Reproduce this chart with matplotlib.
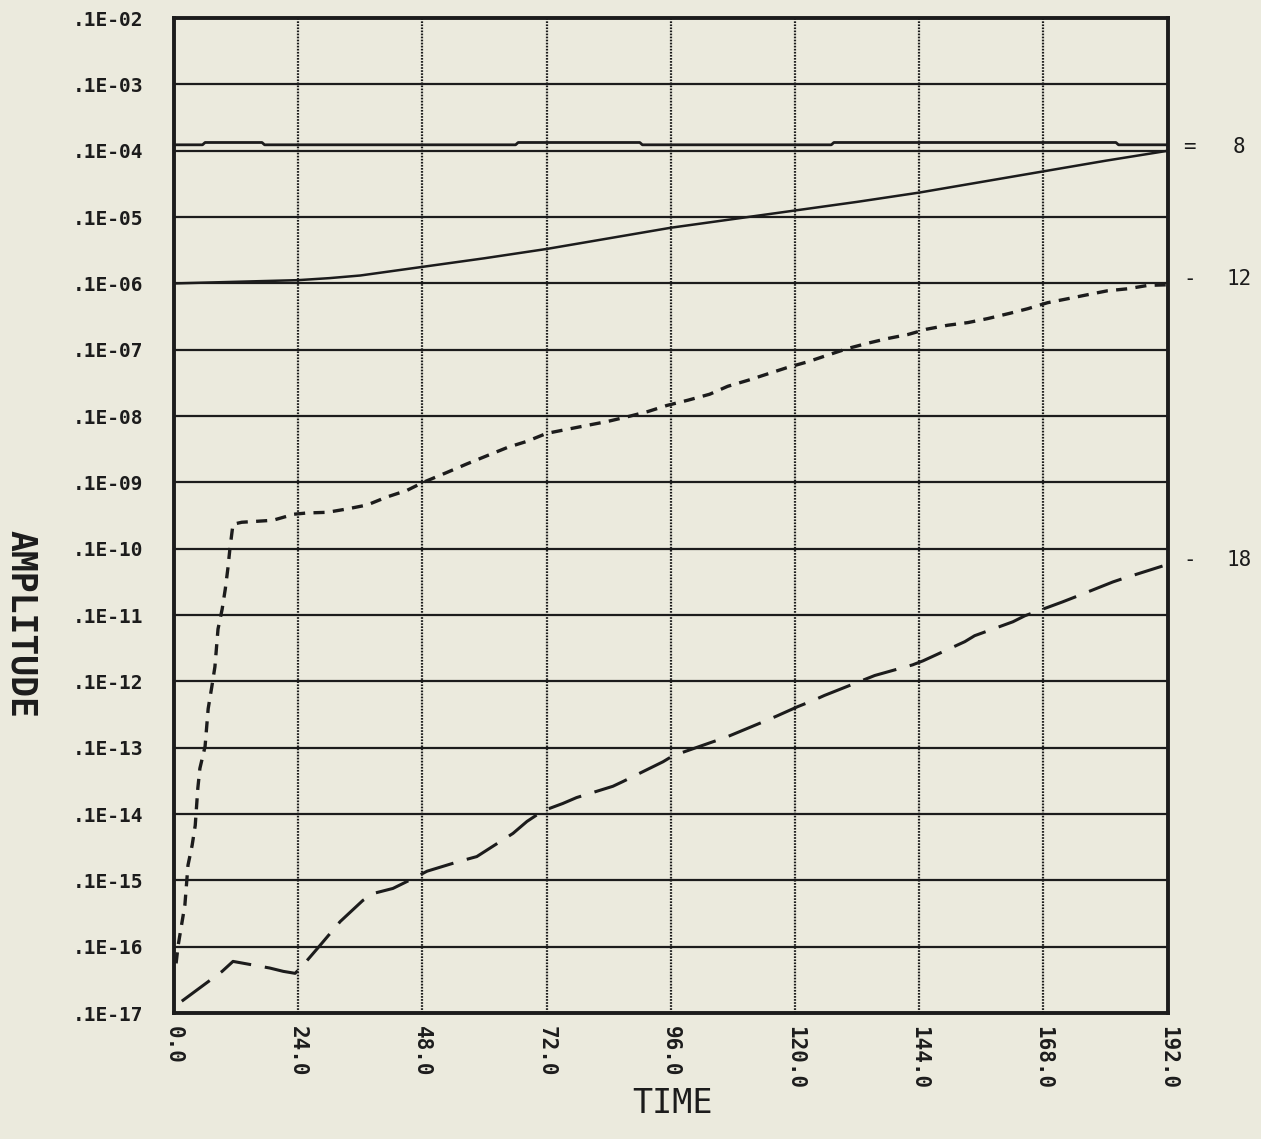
import numpy as np
import matplotlib
matplotlib.use("Agg")
import matplotlib.pyplot as plt
from matplotlib.ticker import FixedLocator, NullLocator


# time axis ticks
TIME_TICKS = [0, 24, 48, 72, 96, 120, 144, 168, 192]
TIME_LABELS = ["0.0", "24.0", "48.0", "72.0", "96.0", "120.0", "144.0", "168.0", "192.0"]

# amplitude decades (label .1E-k sits at 10^-(k+1))
AMP_EXP = list(range(-18, -2))
AMP_LABELS = [".1E-%02d" % (-e - 1) for e in AMP_EXP]

# curve "8": nearly flat, log10 amplitude
t_8 = [0, 5.5, 6, 17, 17.5, 66, 66.5, 90, 90.5, 127, 127.5, 182, 182.5, 192]
e_8 = [-4.91, -4.91, -4.875, -4.875, -4.91, -4.91, -4.875, -4.875, -4.91, -4.91,
       -4.875, -4.875, -4.91, -4.91]

# thin solid rising curve
t_solid = [0, 24, 30, 36, 48, 60, 72, 84, 96, 108, 120, 132, 144, 156, 168, 180, 192]
e_solid = [-7.0, -6.95, -6.92, -6.88, -6.75, -6.62, -6.48, -6.32, -6.16, -6.03,
           -5.90, -5.77, -5.63, -5.47, -5.31, -5.15, -5.0]

# curve "12" (short dashes)
t_12 = [0.4, 0.8, 1.5, 2.1, 2.7, 3.5, 4.1, 4.6, 5.0, 6.0, 6.6, 7.3, 7.9, 8.5, 9.3,
        9.9, 10.4, 10.8, 11.2, 11.4, 13.1, 19.1, 21.8, 23.0, 25.7, 29.6, 33.4, 37.3,
        41.1, 45.0, 48.1, 52.7, 56.6, 60.7, 64.5, 68.2, 72.0, 75.9, 79.8, 83.8, 88.1,
        91.6, 95.2, 99.3, 103.5, 107.0, 110.9, 118.4, 122.5, 126.7, 130.2, 134.1,
        137.9, 141.8, 145.4, 149.5, 153.4, 157.2, 161.5, 165.0, 168.8, 172.7, 176.5,
        180.4, 184.3, 188.1, 192.0]
e_12 = [-17.25, -16.98, -16.65, -16.37, -15.77, -15.47, -15.17, -14.61, -14.31,
        -13.98, -13.41, -13.08, -12.78, -12.21, -11.91, -11.61, -11.30, -11.0,
        -10.75, -10.63, -10.60, -10.57, -10.51, -10.48, -10.46, -10.45, -10.40,
        -10.34, -10.22, -10.12, -10.0, -9.85, -9.72, -9.59, -9.47, -9.38, -9.26,
        -9.20, -9.14, -9.08, -9.0, -8.93, -8.84, -8.76, -8.67, -8.55, -8.46, -8.27,
        -8.18, -8.07, -7.98, -7.90, -7.83, -7.77, -7.69, -7.63, -7.59, -7.53, -7.45,
        -7.38, -7.29, -7.23, -7.17, -7.11, -7.08, -7.03, -7.02]

# curve "18" (long dashes)
t_18 = [1.5, 9.3, 11.4, 18.5, 21.1, 23.4, 24.9, 28.2, 32.1, 36.5, 38.8, 42.3, 46.2,
        48.9, 55.2, 58.5, 65.5, 68.2, 71.3, 75.1, 77.8, 84.8, 86.7, 94.5, 96.4,
        104.1, 106.4, 113.8, 116.5, 120.5, 123.4, 125.7, 135.4, 142.7, 144.7, 152.8,
        154.7, 162.1, 164.4, 171.7, 174.0, 181.4, 183.3, 191.0]
e_18 = [-17.82, -17.37, -17.22, -17.32, -17.37, -17.40, -17.28, -16.98, -16.62,
        -16.30, -16.19, -16.12, -15.97, -15.86, -15.71, -15.64, -15.29, -15.11,
        -14.95, -14.84, -14.75, -14.58, -14.51, -14.21, -14.12, -13.91, -13.85,
        -13.61, -13.52, -13.38, -13.29, -13.21, -12.91, -12.75, -12.69, -12.40,
        -12.31, -12.10, -12.01, -11.80, -11.73, -11.50, -11.45, -11.26]

# labels on the right edge: (marker, text, log10 amplitude)
END_LABELS = [("=", "8", -4.95), ("-", "12", -6.93), ("-", "18", -11.17)]

BG = "#ebeadd"
INK = "#1c1c1c"

plt.rcParams["lines.scale_dashes"] = False
plt.rcParams["font.family"] = ["DejaVu Sans Mono", "DejaVu Sans"]

fig = plt.figure(figsize=(12.61, 11.39), dpi=100, facecolor=BG)
ax = fig.add_axes([0.138, 0.1105, 0.788, 0.8736])
ax.set_facecolor(BG)

ax.set_yscale("log")
ax.set_xlim(0, 192)
ax.set_ylim(10.0 ** -18, 10.0 ** -3)

# grid
for e in AMP_EXP[1:-1]:
    ax.axhline(10.0 ** e, color=INK, lw=1.6, zorder=1)
for t in TIME_TICKS[1:-1]:
    ax.axvline(t, color=INK, lw=1.6, ls=(0, (1.2, 1.0)), zorder=1)

ax.plot(t_8, 10.0 ** np.array(e_8), color=INK, lw=2.0, zorder=3)
ax.plot(t_solid, 10.0 ** np.array(e_solid), color=INK, lw=1.8, zorder=3)
ax.plot(t_12, 10.0 ** np.array(e_12), color=INK, lw=2.4, ls=(0, (8, 6)), zorder=3)
ax.plot(t_18, 10.0 ** np.array(e_18), color=INK, lw=2.2, ls=(0, (25, 10)), zorder=3)

for mark, txt, e in END_LABELS:
    tr = ax.get_yaxis_transform()
    ax.text(1.022, 10.0 ** e, mark, transform=tr, ha="center", va="center",
            fontsize=15, color=INK)
    ax.text(1.072, 10.0 ** e, txt, transform=tr, ha="center", va="center",
            fontsize=15, color=INK)

ax.yaxis.set_major_locator(FixedLocator([10.0 ** e for e in AMP_EXP]))
ax.yaxis.set_minor_locator(NullLocator())
ax.set_yticklabels(AMP_LABELS)
ax.set_xticks(TIME_TICKS)
ax.set_xticklabels(TIME_LABELS, rotation=270)

ax.tick_params(axis="y", length=0, pad=22, labelsize=14, labelcolor=INK)
ax.tick_params(axis="x", length=0, pad=9, labelsize=15, labelcolor=INK)
for lab in ax.get_xticklabels():
    lab.set_fontweight("bold")
for lab in ax.get_yticklabels():
    lab.set_fontweight("bold")

for s in ax.spines.values():
    s.set_linewidth(2.8)
    s.set_color(INK)

fig.text(0.017, 0.452, "AMPLITUDE", rotation=270, ha="center", va="center",
         fontsize=25, fontweight="bold", color=INK)
fig.text(0.533, 0.031, "TIME", ha="center", va="center",
         fontsize=24, color=INK)

fig.savefig("out.png", dpi=100, facecolor=BG)
